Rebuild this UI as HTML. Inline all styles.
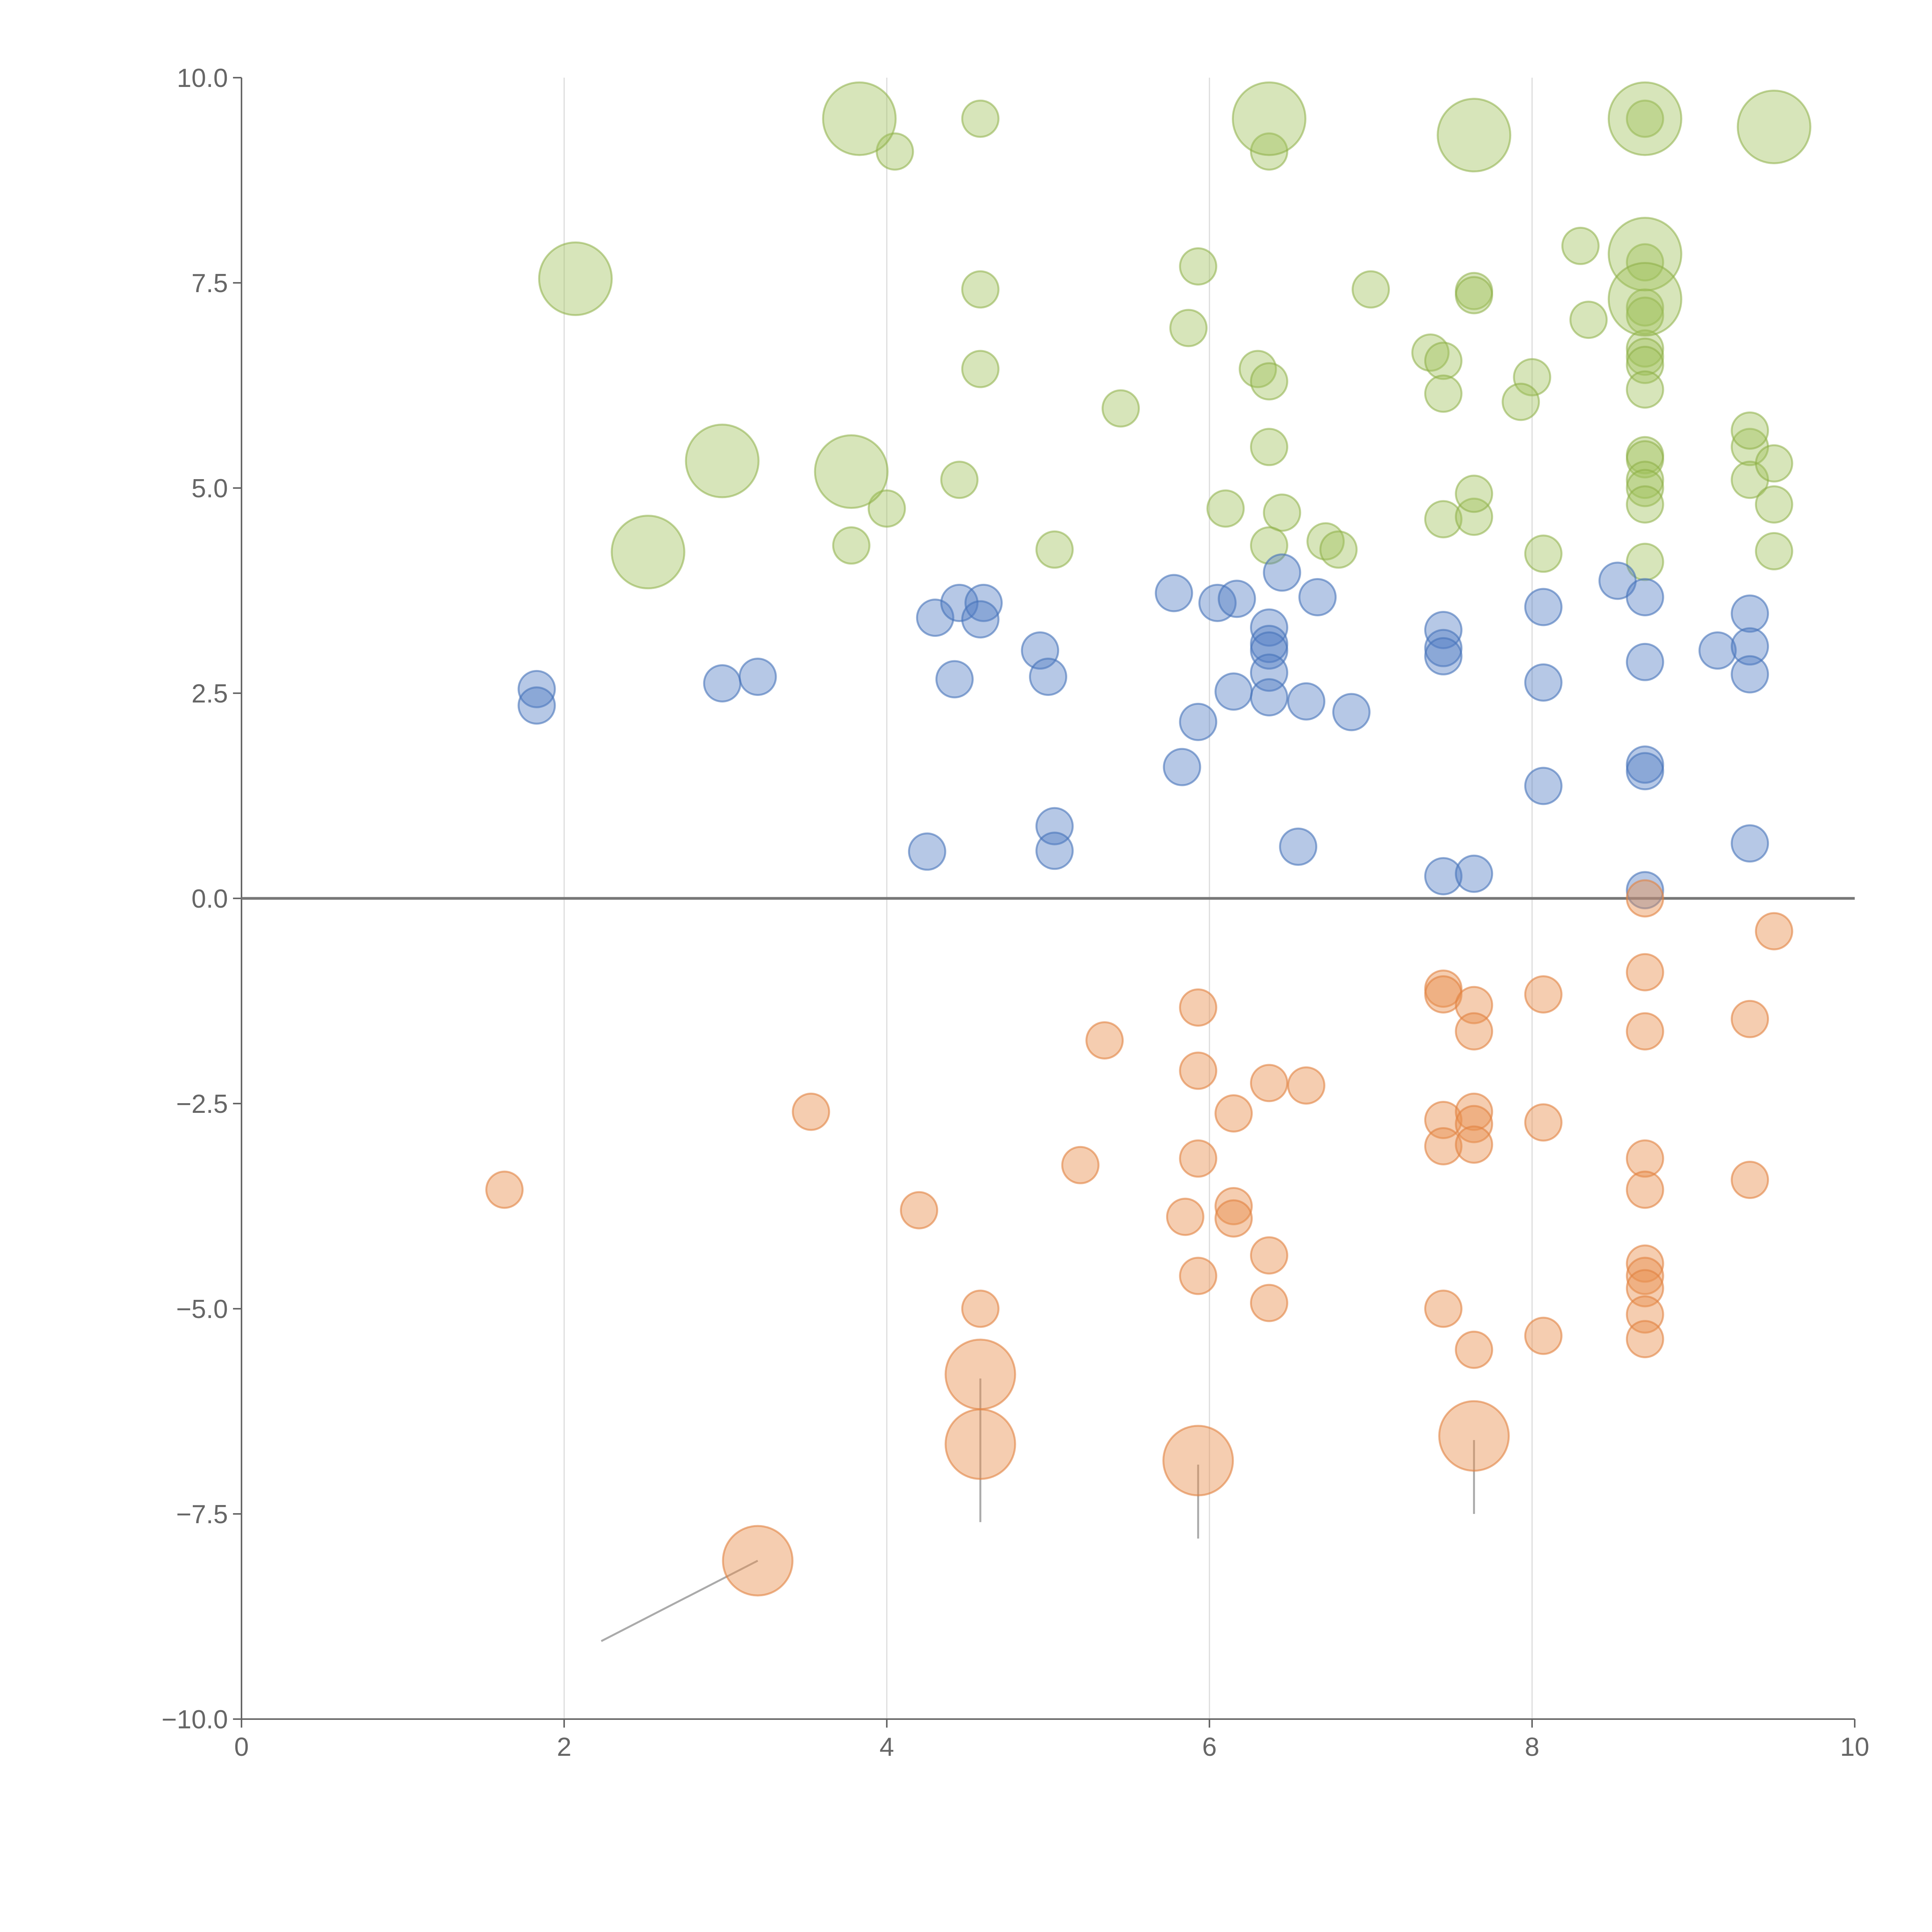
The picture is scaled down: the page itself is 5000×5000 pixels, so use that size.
<!DOCTYPE html>
<html><head><meta charset="utf-8"><style>
html,body{margin:0;padding:0;background:#fff;}
svg{display:block;}
text{font-family:"Liberation Sans",sans-serif;fill:#666;}
</style></head><body>
<svg id="chart" width="5000" height="5000" viewBox="0 0 5000 5000" xmlns="http://www.w3.org/2000/svg">
<g id="grid"></g>
<g id="axes"></g>
<g id="annos"></g>
<g id="marks"></g>
</svg>
<script>
const xTicks=[0,2,4,6,8,10];
const yTicks=[10,7.5,5,2.5,0,-2.5,-5,-7.5,-10];
const yTickLabels=["10.0","7.5","5.0","2.5","0.0","\u22122.5","\u22125.0","\u22127.5","\u221210.0"];
const greenSmallX=[4.58,4.05,6.37,8.7,5.93,4.58,7.0,7.64,7.64,5.87,8.3,8.35,7.37,7.45,6.3,6.37,4.58,8.0,7.93,7.45,8.7,8.7,8.7,8.7,8.7,8.7,8.7,5.45,6.37,4.45,4.0,6.1,6.45,3.78,5.04,6.37,6.72,6.8,7.45,7.64,7.64,8.07,8.7,8.7,8.7,8.7,8.7,8.7,9.35,9.35,9.5,9.5,9.5,9.35];
const greenSmallY=[9.5,9.1,9.1,9.5,7.7,7.42,7.42,7.4,7.35,6.95,7.95,7.05,6.65,6.55,6.45,6.3,6.45,6.35,6.05,6.15,7.75,7.2,7.1,6.7,6.6,6.5,6.2,5.97,5.5,5.1,4.75,4.75,4.7,4.3,4.25,4.3,4.35,4.25,4.62,4.65,4.93,4.2,5.4,5.35,5.1,5.0,4.8,4.1,5.5,5.1,5.3,4.8,4.23,5.7];
const greenLargeX=[3.83,6.37,7.64,8.7,9.5,2.07,8.7,8.7,2.98,3.78,2.52];
const greenLargeY=[9.5,9.5,9.3,9.5,9.4,7.55,7.85,7.3,5.33,5.2,4.22];
const blueX=[1.83,1.83,2.98,3.2,4.3,4.45,4.6,4.58,4.42,4.95,5.0,5.78,6.05,6.17,6.45,6.67,6.37,6.37,6.37,6.37,6.37,6.15,5.93,6.6,6.88,5.83,7.45,7.45,7.45,8.07,8.07,8.07,8.53,8.7,8.7,8.7,8.7,8.7,9.15,9.35,9.35,9.35,9.35,4.25,5.04,5.04,6.55,7.45,7.64];
const blueY=[2.55,2.35,2.62,2.7,3.42,3.6,3.6,3.4,2.67,3.02,2.7,3.72,3.6,3.65,3.97,3.67,3.3,3.1,3.02,2.75,2.45,2.52,2.15,2.4,2.27,1.6,3.27,3.05,2.95,3.55,2.63,1.37,3.87,3.67,2.88,1.63,1.55,0.1,3.02,3.47,3.07,2.73,0.67,0.57,0.88,0.58,0.63,0.27,0.3];
const orangeSmallX=[1.63,3.53,4.2,4.58,5.2,5.35,5.93,5.93,5.93,5.85,5.93,6.15,6.15,6.15,6.37,6.6,6.37,6.37,7.45,7.45,7.64,7.64,7.45,7.45,7.64,7.64,7.64,7.45,7.64,8.07,8.07,8.07,8.7,8.7,8.7,8.7,8.7,8.7,8.7,8.7,8.7,8.7,9.35,9.35,9.5];
const orangeSmallY=[-3.55,-2.6,-3.8,-5.0,-3.25,-1.73,-1.33,-2.1,-3.17,-3.88,-4.6,-2.62,-3.75,-3.9,-2.25,-2.28,-4.35,-4.93,-1.1,-1.17,-1.3,-1.62,-2.7,-3.02,-2.6,-2.75,-3.0,-5.0,-5.5,-1.17,-2.73,-5.33,0.0,-0.9,-1.62,-3.17,-3.55,-4.45,-4.6,-4.75,-5.07,-5.37,-1.47,-3.43,-0.4];
const orangeLargeX=[4.58,4.58,5.93,7.64,3.2];
const orangeLargeY=[-5.8,-6.65,-6.85,-6.55,-8.07];
const annoX1=[4.58,5.93,7.64,3.2];
const annoY1=[-5.85,-6.9,-6.6,-8.07];
const annoX2=[4.58,5.93,7.64,2.23];
const annoY2=[-7.6,-7.8,-7.5,-9.05];

const X0=625,X1=4800,Y0=4449,Y1=201;
const sx=v=>X0+(v-0)/(10-0)*(X1-X0);
const sy=v=>Y0-(v+10)/20*(Y0-Y1);
const NS="http://www.w3.org/2000/svg";
function mk(parent,tag,attrs){const e=document.createElementNS(NS,tag);for(const k in attrs)e.setAttribute(k,attrs[k]);parent.appendChild(e);return e;}
const grid=document.getElementById('grid'),axes=document.getElementById('axes'),marks=document.getElementById('marks'),annos=document.getElementById('annos');

[2,4,6,8].forEach(v=>{
  const l=mk(grid,'line',{x1:sx(v),x2:sx(v),y1:Y1,y2:Y0,stroke:'#dcdcdc','stroke-width':3});
  
  
});
let sp=mk(axes,'line',{x1:X0,x2:X0,y1:Y1,y2:Y0,stroke:'#666','stroke-width':4});


sp=mk(axes,'line',{x1:X0,x2:X1,y1:Y0,y2:Y0,stroke:'#666','stroke-width':4});


sp=mk(axes,'line',{x1:X0,x2:X1,y1:sy(0),y2:sy(0),stroke:'#777','stroke-width':7});


xTicks.forEach(v=>{
  const t=mk(axes,'line',{x1:sx(v),x2:sx(v),y1:Y0,y2:Y0+22,stroke:'#666','stroke-width':4});
  
  
  const tx=mk(axes,'text',{x:sx(v),y:Y0+95,'font-size':68,'text-anchor':'middle'});
  tx.textContent=v;
  
  
});
yTicks.forEach((v,i)=>{
  const t=mk(axes,'line',{x1:X0-22,x2:X0,y1:sy(v),y2:sy(v),stroke:'#666','stroke-width':4});
  
  
  const tx=mk(axes,'text',{x:X0-35,y:sy(v)+24,'font-size':68,'text-anchor':'end'});
  tx.textContent=yTickLabels[i];
  
  
});
annoX1.forEach((v,i)=>{
  const l=mk(annos,'line',{x1:sx(v),y1:sy(annoY1[i]),x2:sx(annoX2[i]),y2:sy(annoY2[i]),stroke:'#aaa','stroke-width':5});
  
  
});
function draw(xs,ys,r,fill,stroke,name){
  xs.forEach((v,i)=>{
    const c=mk(marks,'circle',{cx:sx(v),cy:sy(ys[i]),r:r,fill:fill,stroke:stroke,'stroke-width':5});
    
    
  });
}
draw(greenSmallX,greenSmallY,47,'rgba(160,192,90,0.42)','rgba(140,175,70,0.55)','green-bubble');
draw(greenLargeX,greenLargeY,94,'rgba(160,192,90,0.42)','rgba(140,175,70,0.55)','green-large-bubble');
draw(blueX,blueY,47,'rgba(80,125,195,0.42)','rgba(70,115,185,0.6)','blue-bubble');
draw(orangeSmallX,orangeSmallY,47,'rgba(232,145,80,0.45)','rgba(225,130,65,0.6)','orange-bubble');
draw(orangeLargeX,orangeLargeY,90,'rgba(232,145,80,0.45)','rgba(225,130,65,0.6)','orange-large-bubble');
</script>
</body></html>
